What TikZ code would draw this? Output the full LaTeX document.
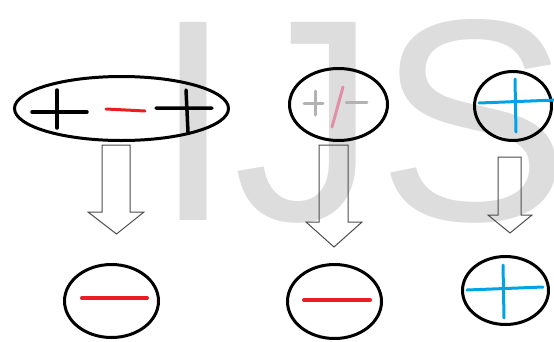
\documentclass[tikz,border=0pt]{standalone}
\usepackage{fontspec}
\newfontfamily\markfont{Liberation Sans}
\usetikzlibrary{shapes.geometric}
\definecolor{paintred}{RGB}{236,28,36}
\definecolor{paintblue}{RGB}{0,162,232}
\definecolor{fadegray}{RGB}{178,178,178}
\definecolor{fadepink}{RGB}{226,142,166}
\definecolor{markgray}{RGB}{221,221,221}
\tikzset{
  charge/.style={draw,ellipse,line width=3pt,inner sep=0pt},
  hollow/.style={draw=black!70,line width=1pt,line join=miter},
  sym/.style={line width=3.5pt,line cap=round}
}
\begin{document}
\begin{tikzpicture}[x=1pt,y=-1pt]
                \useasboundingbox (0,0) rectangle (554,341);
                \clip (0,0) rectangle (554,341);

                \node[anchor=base west,inner sep=0pt,text=markgray,font=\markfont\fontsize{288}{288}\selectfont] (mark) at (153,220) {IJS};

                \node[charge,minimum width=214pt,minimum height=64pt] (pair) at (121.5,108.5) {};
                \node[charge,minimum width=98pt,minimum height=72pt] (mixed) at (338.5,104.5) {};
                \node[charge,minimum width=77pt,minimum height=69pt] (pos) at (513,106) {};
                \node[charge,minimum width=94pt,minimum height=73pt] (negA) at (111.5,301) {};
                \node[charge,minimum width=94pt,minimum height=74pt] (negB) at (334.5,301.5) {};
                \node[charge,minimum width=86pt,minimum height=68pt] (posB) at (505.5,290.5) {};

                % top row
                \draw[sym] (32,112) -- (87,112) (57,90) -- (57,128);
                \draw[sym,paintred,line width=3pt] (106,109) -- (126,110) -- (145,111);
                \draw[sym] (156,108) -- (212,108) (186,90) -- (188,132);
                \draw[sym,fadegray,line width=3pt] (304,103) -- (323,103) (315,91) -- (315,115) (346,102) -- (367,102);
                \draw[sym,fadepink,line width=3pt] (343,87) -- (332,127);
                \draw[sym,paintblue,line width=3pt] (479,103) -- (556,100) (515,79) -- (516,132);

                % hollow arrows
                \draw[hollow] (102,145) -- (102,212) -- (88,212) -- (116.5,234) -- (144,212) -- (130,212) -- (130,145) -- cycle;
                \draw[hollow] (319,145) -- (319,222) -- (306,222) -- (334,247) -- (362,222) -- (348,222) -- (348,145) -- cycle;
                \draw[hollow] (498,157) -- (498,215) -- (488,215) -- (510,233) -- (532,215) -- (521,215) -- (521,157) -- cycle;

                % bottom row
                \draw[sym,paintred,line width=4pt] (82,298) -- (147,298);
                \draw[sym,paintred,line width=4pt] (304,300) -- (370,300);
                \draw[sym,paintblue,line width=3pt] (467,290) -- (543,287) (503,265) -- (504,318);
\end{tikzpicture}
\end{document}
